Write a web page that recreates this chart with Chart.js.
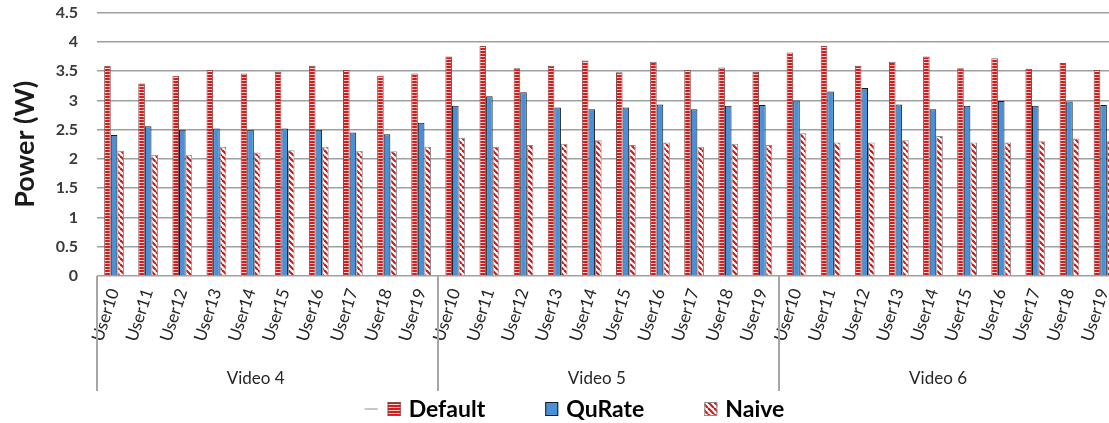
<!DOCTYPE html>
<html>
<head>
<meta charset="utf-8">
<script src="https://cdn.jsdelivr.net/npm/chart.js@4.4.1/dist/chart.umd.min.js"></script>
<style>
  html, body { margin: 0; padding: 0; overflow: hidden; background: #ffffff; }
  #wrap { width: 1125px; height: 423px; position: relative; }
</style>
</head>
<body>
<div id="wrap"><canvas id="chart"></canvas></div>
<script>
// Power draw per user, grouped by video
const videos = ['Video 4', 'Video 5', 'Video 6'];
const users = ['User10', 'User11', 'User12', 'User13', 'User14', 'User15', 'User16', 'User17', 'User18', 'User19'];

const defaultPower = [
  3.59, 3.29, 3.42, 3.52, 3.46, 3.49, 3.59, 3.52, 3.42, 3.46,
  3.75, 3.93, 3.55, 3.59, 3.68, 3.48, 3.66, 3.52, 3.56, 3.49,
  3.82, 3.93, 3.59, 3.66, 3.75, 3.55, 3.72, 3.54, 3.64, 3.52
];
const quratePower = [
  2.41, 2.56, 2.50, 2.52, 2.50, 2.52, 2.50, 2.45, 2.42, 2.62,
  2.91, 3.07, 3.14, 2.88, 2.85, 2.88, 2.93, 2.85, 2.91, 2.92,
  3.00, 3.15, 3.21, 2.93, 2.85, 2.91, 2.99, 2.91, 2.98, 2.92
];
const naivePower = [
  2.14, 2.07, 2.07, 2.21, 2.11, 2.15, 2.21, 2.14, 2.13, 2.21,
  2.36, 2.21, 2.24, 2.26, 2.32, 2.24, 2.28, 2.21, 2.26, 2.24,
  2.44, 2.28, 2.28, 2.32, 2.39, 2.28, 2.28, 2.30, 2.35, 2.30
];

const yMin = 0, yMax = 4.5, yStep = 0.5;
const FONT = 'Lato, "Open Sans", sans-serif';

// one category per (video, user) pair
const categories = [];
videos.forEach(() => users.forEach(u => categories.push(u)));

// fill patterns
function hStripes() {
  const c = document.createElement('canvas');
  c.width = 4; c.height = 3;
  const g = c.getContext('2d');
  g.fillStyle = '#d41c1c'; g.fillRect(0, 0, 4, 3);
  g.fillStyle = '#f7d0d0'; g.fillRect(0, 2, 4, 1);
  return g.createPattern(c, 'repeat');
}
function diagStripes() {
  const s = 6;
  const c = document.createElement('canvas');
  c.width = s; c.height = s;
  const g = c.getContext('2d');
  g.fillStyle = '#ffffff'; g.fillRect(0, 0, s, s);
  g.strokeStyle = '#d01818'; g.lineWidth = 2.2;
  [-s, 0, s].forEach(dx => {
    g.beginPath(); g.moveTo(dx, 0); g.lineTo(dx + s, s); g.stroke();
  });
  return g.createPattern(c, 'repeat');
}

// vertical separators between the video groups
const groupLines = {
  id: 'groupLines',
  afterDraw(chart) {
    const x = chart.scales.x, x2 = chart.scales.x2, ctx = chart.ctx;
    ctx.save();
    ctx.strokeStyle = '#a6a6a6';
    ctx.lineWidth = 2;
    const bounds = [0];
    let n = 0;
    videos.forEach(() => { n += users.length; bounds.push(n); });
    bounds.forEach(b => {
      const px = Math.round(x.getPixelForValue(b - 0.5));
      ctx.beginPath();
      ctx.moveTo(px, chart.chartArea.bottom);
      ctx.lineTo(px, x2.bottom - 4);
      ctx.stroke();
    });
    ctx.restore();
  }
};

// legend row along the bottom edge, drawn from the datasets
const legendRow = {
  id: 'legendRow',
  afterDraw(chart) {
    const ctx = chart.ctx;
    const items = chart.data.datasets;
    const box = 13, boxH = 14, textGap = 8, itemGap = 60, dashW = 13, dashGap = 10;
    ctx.save();
    ctx.font = 'bold 23px ' + FONT;
    const widths = items.map(d => ctx.measureText(d.label).width);
    let total = dashW + dashGap;
    widths.forEach((w, i) => { total += box + textGap + w + (i < widths.length - 1 ? itemGap : 0); });
    let x = chart.width / 2 + 12 - total / 2;
    const cy = chart.height - 14;
    // small grey dash ahead of the first entry
    ctx.strokeStyle = '#c8c8c8';
    ctx.lineWidth = 2;
    ctx.beginPath(); ctx.moveTo(x, cy); ctx.lineTo(x + dashW, cy); ctx.stroke();
    x += dashW + dashGap;
    items.forEach((d, i) => {
      ctx.fillStyle = d.backgroundColor;
      ctx.fillRect(x, cy - boxH / 2, box, boxH);
      ctx.strokeStyle = d.borderColor;
      ctx.lineWidth = 1;
      ctx.strokeRect(x + 0.5, cy - boxH / 2 + 0.5, box - 1, boxH - 1);
      x += box + textGap;
      ctx.fillStyle = '#000000';
      ctx.textBaseline = 'middle';
      ctx.textAlign = 'left';
      ctx.fillText(d.label, x, cy + 1);
      x += widths[i] + itemGap;
    });
    ctx.restore();
  }
};

new Chart(document.getElementById('chart'), {
  type: 'bar',
  data: {
    labels: categories,
    datasets: [
      { label: 'Default', data: defaultPower, backgroundColor: hStripes(), borderColor: '#8a4a4a', borderWidth: 1 },
      { label: 'QuRate', data: quratePower, backgroundColor: '#4a90d9', borderColor: '#1a1a1a', borderWidth: 1 },
      { label: 'Naive', data: naivePower, backgroundColor: diagStripes(), borderColor: '#8c8c8c', borderWidth: 1 }
    ]
  },
  plugins: [groupLines, legendRow],
  options: {
    responsive: true,
    maintainAspectRatio: false,
    animation: false,
    layout: { padding: { top: 0, right: 2, left: 0, bottom: 28 } },
    datasets: { bar: { categoryPercentage: 0.58, barPercentage: 1.0 } },
    plugins: {
      tooltip: { enabled: false },
      legend: { display: false }
    },
    scales: {
      x: {
        type: 'category',
        offset: true,
        weight: 0,
        grid: { display: false },
        border: { display: false },
        ticks: {
          autoSkip: false,
          minRotation: 72,
          maxRotation: 72,
          padding: 2,
          color: '#262626',
          font: { family: FONT, size: 17 }
        },
        afterFit(scale) { scale.height = 76; }
      },
      x2: {
        type: 'category',
        labels: videos,
        offset: true,
        position: 'bottom',
        weight: 1,
        grid: { display: false },
        border: { display: false },
        ticks: {
          padding: 8,
          labelOffset: -12,
          color: '#262626',
          font: { family: FONT, size: 17 }
        },
        afterFit(scale) { scale.height = 43; }
      },
      y: {
        min: yMin,
        max: yMax,
        ticks: {
          stepSize: yStep,
          padding: 3,
          color: '#3a3a3a',
          font: { family: FONT, size: 16, weight: 'bold' },
          callback: v => String(v)
        },
        grid: {
          color: '#a0a0a0',
          lineWidth: 1.6,
          drawTicks: true,
          tickLength: 16,
          tickColor: 'rgba(0,0,0,0)'
        },
        border: { display: false },
        title: {
          display: true,
          text: 'Power (W)',
          color: '#1a1a1a',
          font: { family: FONT, size: 27, weight: 'bold' },
          padding: { top: 9, bottom: 0 }
        },
        afterFit(scale) { scale.width = 97; }
      }
    }
  }
});
</script>
</body>
</html>
